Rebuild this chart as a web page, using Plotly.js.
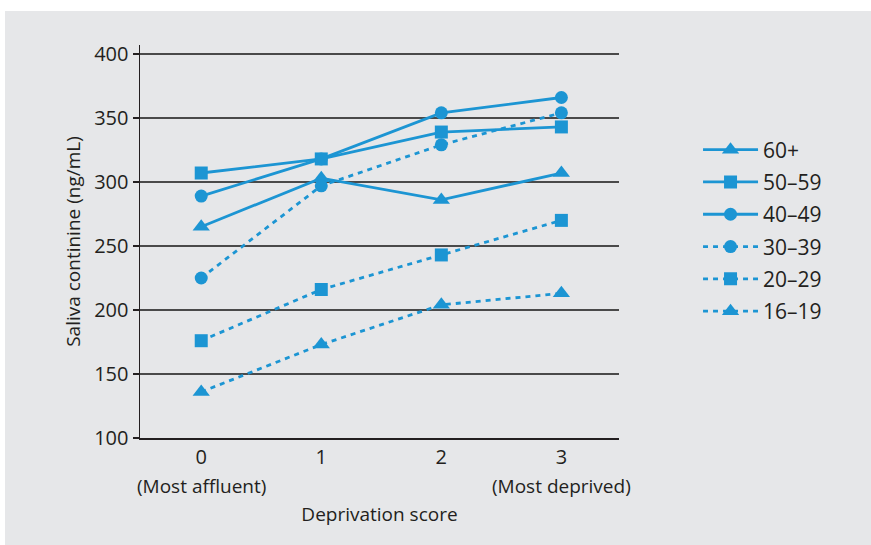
<!DOCTYPE html>
<html><head><meta charset="utf-8">
<script src="https://cdn.plot.ly/plotly-3.0.1.min.js"></script>
<style>
html,body{margin:0;padding:0;background:#ffffff;width:871px;height:545px;overflow:hidden;}
#chart{position:absolute;left:5px;top:11px;width:866px;height:534px;}
</style></head>
<body><div id="chart"></div>
<script>
const scores = [0, 1, 2, 3];
const tickLabels = ["0", "1", "2", "3"];
const subLabels = ["(Most affluent)", "", "", "(Most deprived)"];
const seriesNames = ["60+", "50\u201359", "40\u201349", "30\u201339", "20\u201329", "16\u201319"];
const age60plus = [265, 303, 286, 307];
const age50to59 = [307, 318, 339, 343];
const age40to49 = [289, 318, 354, 366];
const age30to39 = [225, 297, 329, 354];
const age20to29 = [176, 216, 243, 270];
const age16to19 = [136, 173, 204, 213];

const seriesValues = [age60plus, age50to59, age40to49, age30to39, age20to29, age16to19];
const symbols = ["triangle-up", "square", "circle", "circle", "square", "triangle-up"];
const sizes = [15, 13, 13, 13, 13, 15];
const dashes = ["solid", "solid", "solid", "5px,5px", "5px,5px", "5px,5px"];
const blue = "#1c95d3";
const ink = "#231f20";
const font = "Open Sans, Noto Sans, sans-serif";

const traces = seriesNames.map((n, i) => ({
  x: scores, y: seriesValues[i], name: n, type: "scatter", mode: "lines+markers",
  legendgroup: "g" + i,
  line: {color: blue, width: 2.8, dash: dashes[i]},
  marker: {color: blue, symbol: symbols[i], size: sizes[i]},
  hoverinfo: "x+y+name"
}));

const annotations = scores.map((s, i) => ({
  x: s, y: 0, xref: "x", yref: "paper", yanchor: "top", yshift: -33,
  text: subLabels[i], showarrow: false, font: {family: font, size: 19, color: ink}
})).filter(a => a.text !== "");

const layout = {
  width: 866, height: 534,
  paper_bgcolor: "#e6e7e9", plot_bgcolor: "#e6e7e9",
  margin: {l: 135, r: 252, t: 34, b: 107},
  font: {family: font, size: 19, color: ink},
  showlegend: true,
  legend: {x: 1.165, xanchor: "left", y: 0.785, yanchor: "top", tracegroupgap: 2,
           font: {family: font, size: 21, color: ink}, bgcolor: "rgba(0,0,0,0)", itemwidth: 55},
  xaxis: {range: [-0.51, 3.48], tickvals: scores, ticktext: tickLabels, showgrid: false,
          zeroline: false, showline: true, linecolor: ink, linewidth: 1.5, ticks: "",
          tickfont: {family: font, size: 20, color: ink},
          title: {text: "Deprivation score", font: {family: font, size: 19, color: ink}, standoff: 39}},
  yaxis: {range: [100, 407], tickvals: [100, 150, 200, 250, 300, 350, 400], showgrid: true,
          gridcolor: "#4a4a4a", gridwidth: 1.3, zeroline: false, showline: true, linecolor: ink,
          linewidth: 1.5, ticks: "outside", ticklen: 6, tickcolor: ink, tickwidth: 1.3,
          tickfont: {family: font, size: 20, color: ink},
          title: {text: "Saliva continine (ng/mL)", font: {family: font, size: 19, color: ink}, standoff: 8}},
  annotations: annotations
};
Plotly.newPlot("chart", traces, layout, {displayModeBar: false, staticPlot: true});
</script></body></html>
